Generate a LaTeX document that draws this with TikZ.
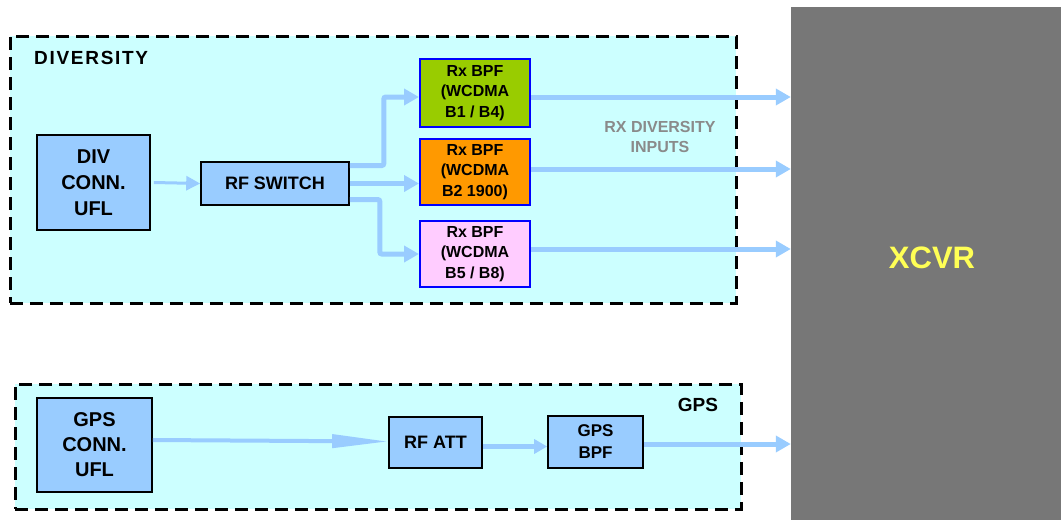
\documentclass[tikz,border=0pt]{standalone}
\usepackage{fontspec}
\setmainfont{Liberation Sans}
\usetikzlibrary{arrows.meta}
\definecolor{regionfill}{HTML}{CCFFFF}
\definecolor{blockfill}{HTML}{99CCFF}
\definecolor{flow}{HTML}{99CCFF}
\definecolor{xcvrgray}{HTML}{777777}
\definecolor{xcvrtext}{HTML}{FFFF55}
\definecolor{bpfgreen}{HTML}{99CC00}
\definecolor{bpforange}{HTML}{FF9900}
\definecolor{bpfpink}{HTML}{FFCCFF}
\definecolor{bpfedge}{HTML}{0000FF}
\definecolor{notegray}{HTML}{8A8A8A}
\tikzset{
  region/.style={draw=black, fill=regionfill, line width=3pt, dash pattern=on 13pt off 7pt, inner sep=0pt},
  block/.style={draw=black, fill=blockfill, line width=1.6pt, inner sep=0pt, align=center, font=\bfseries\fontsize{18}{25}\selectfont},
  bpfbox/.style={draw=bpfedge, line width=2pt, inner sep=0pt, align=center, minimum width=110pt, font=\bfseries\fontsize{16}{20.5}\selectfont},
  flowline/.style={draw=flow, line width=5pt, -{Triangle[length=15pt,width=16pt]}},
  thinflow/.style={draw=flow, line width=3pt, -{Triangle[length=14pt,width=14pt]}},
}
\begin{document}
\begin{tikzpicture}[x=1pt,y=-1pt]
\useasboundingbox (0,0) rectangle (1061,520);
% regions
\node[region, minimum width=726pt, minimum height=267pt] (div) at (373,169.5) {};
\node[region, minimum width=726pt, minimum height=125pt] (gps) at (378,446.5) {};
\node[fill=xcvrgray, inner sep=0pt, minimum width=270pt, minimum height=513pt] (xcvr) at (926,263.5) {};
% labels
\node[inner sep=0pt, text=xcvrtext, font=\bfseries\fontsize{31}{31}\selectfont] (xcvrlabel) at (932,258) {XCVR};
\node[anchor=west, inner sep=0pt, font=\bfseries\fontsize{19}{19}\selectfont\addfontfeatures{LetterSpace=9}] (divlabel) at (34,58) {DIVERSITY};
\node[inner sep=0pt, font=\bfseries\fontsize{19}{19}\selectfont] (gpslabel) at (698,405) {GPS};
\node[inner sep=0pt, align=center, text=notegray, font=\bfseries\fontsize{16}{20}\selectfont] (rxnote) at (660,137) {RX DIVERSITY\\ INPUTS};
% diversity blocks
\node[block, minimum width=113pt, minimum height=95pt, font=\bfseries\fontsize{20}{26}\selectfont] (divconn) at (93.5,182.5) {DIV\\CONN.\\UFL};
\node[block, minimum width=148pt, minimum height=43pt] (sw) at (275,183.5) {RF SWITCH};
\node[bpfbox, fill=bpfgreen, minimum height=68pt] (bpf1) at (475,93) {Rx BPF\\(WCDMA\\B1 / B4)};
\node[bpfbox, fill=bpforange, minimum height=66pt] (bpf2) at (475,172) {Rx BPF\\(WCDMA\\B2 1900)};
\node[bpfbox, fill=bpfpink, minimum height=66pt] (bpf3) at (475,254) {Rx BPF\\(WCDMA\\B5 / B8)};
% gps blocks
\node[block, minimum width=115pt, minimum height=94pt, font=\bfseries\fontsize{20}{25}\selectfont] (gpsconn) at (94.5,445) {GPS\\CONN.\\UFL};
\node[block, minimum width=93pt, minimum height=51pt] (rfatt) at (435.5,442.5) {RF ATT};
\node[block, minimum width=95pt, minimum height=52pt, font=\bfseries\fontsize{17}{22}\selectfont] (gpsbpf) at (595.5,442) {GPS\\BPF};
% diversity connectors
\draw[thinflow] ([xshift=3pt]divconn.east) -- (sw.west);
\draw[flowline, rounded corners=2pt] ([yshift=18pt]sw.east) -- ++(34,0) |- ([yshift=-4pt]bpf1.west);
\draw[flowline] (sw.east) -- (sw.east -| bpf2.west);
\draw[flowline, rounded corners=2pt] ([yshift=-16pt]sw.east) -- ++(30,0) |- (bpf3.west);
\draw[flowline] ([yshift=-4pt]bpf1.east) -- ([yshift=-4pt]bpf1.east -| xcvr.west);
\draw[flowline] ([yshift=3pt]bpf2.east) -- ([yshift=3pt]bpf2.east -| xcvr.west);
\draw[flowline] ([yshift=5pt]bpf3.east) -- ([yshift=5pt]bpf3.east -| xcvr.west);
% gps connectors
\draw[draw=flow, line width=4pt, -{Triangle[length=56pt,width=13pt]}] ([yshift=5pt]gpsconn.east) -- ([yshift=1pt]rfatt.west);
\draw[draw=flow, line width=5pt, -{Triangle[length=13pt,width=14pt]}] ([yshift=-4pt]rfatt.east) -- ([yshift=-4pt]rfatt.east -| gpsbpf.west);
\draw[flowline] ([yshift=-2pt]gpsbpf.east) -- ([yshift=-2pt]gpsbpf.east -| xcvr.west);
\end{tikzpicture}
\end{document}
